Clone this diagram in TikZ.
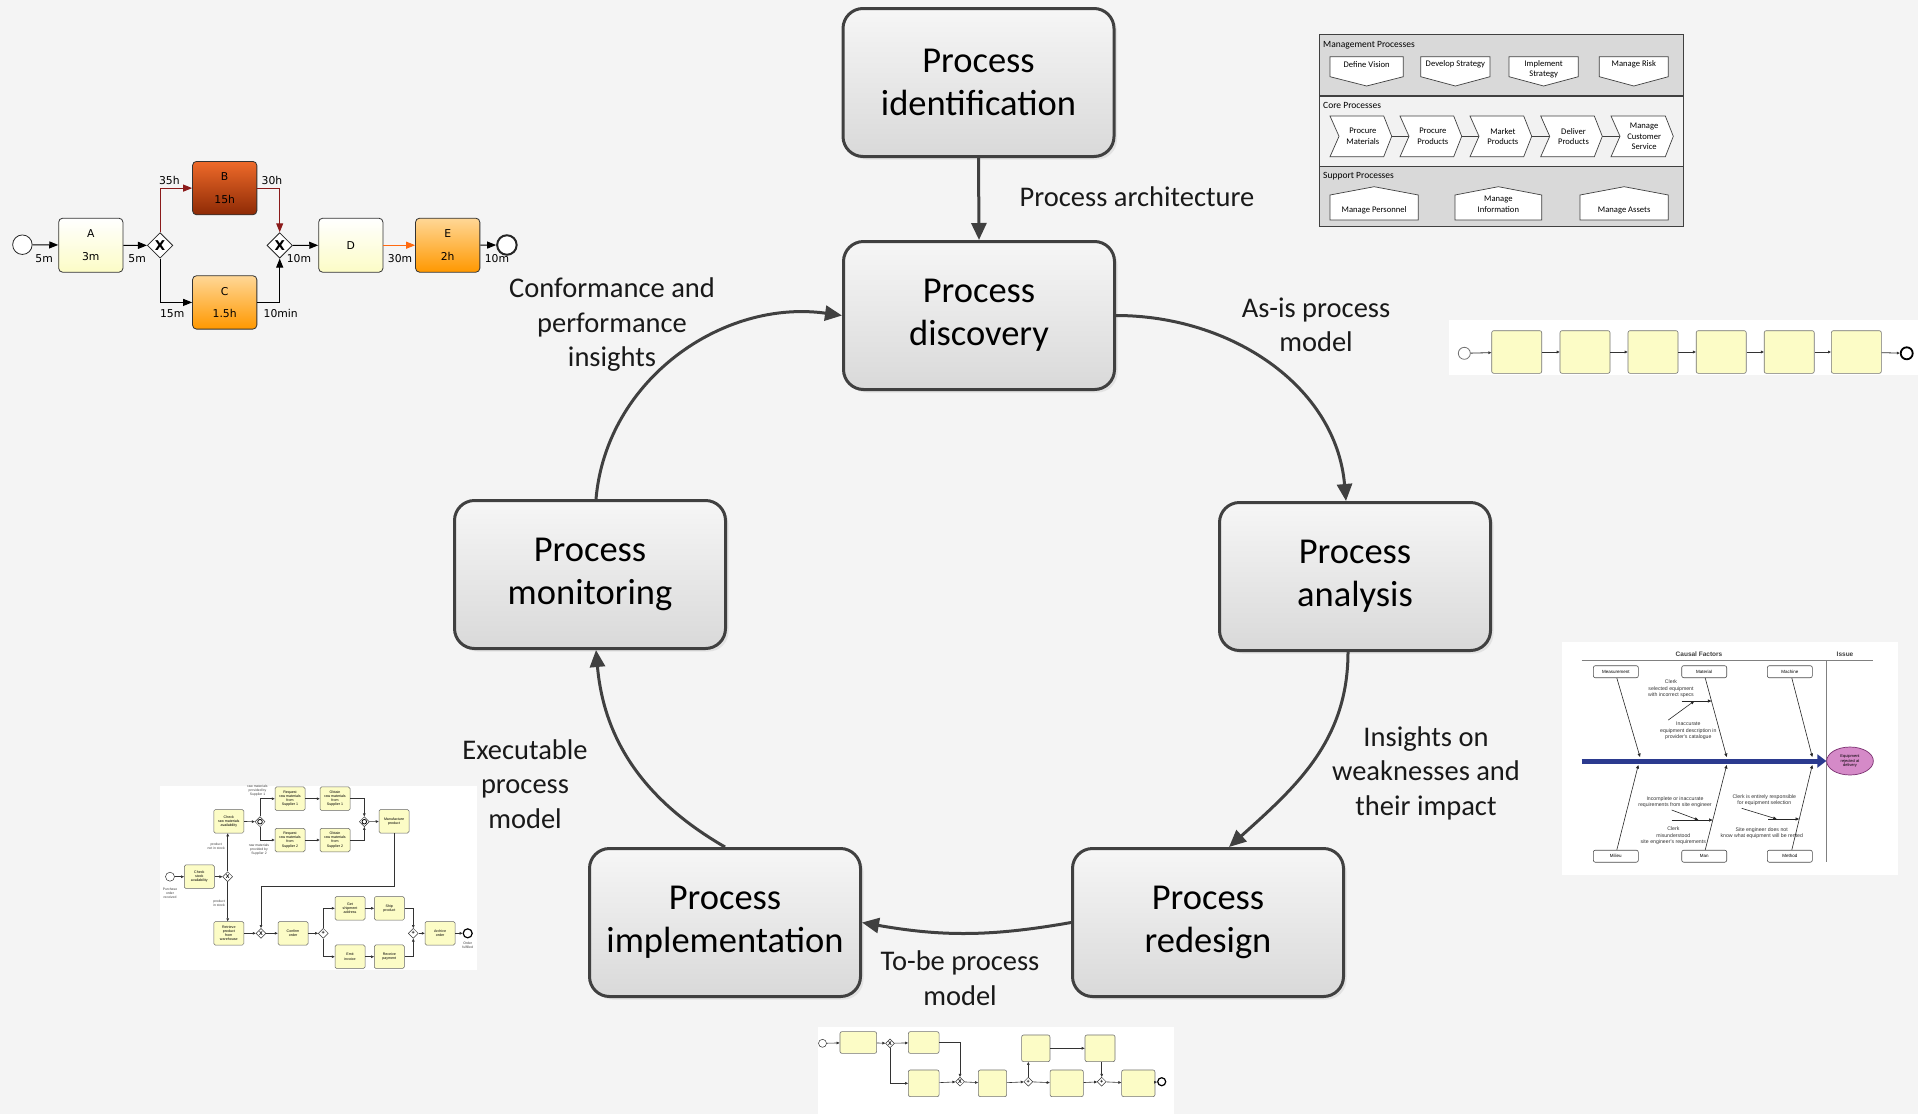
\documentclass[tikz,border=0pt]{standalone}
\usepackage{fontspec}
\setmainfont{Carlito}
\newfontfamily\bpmnfont{DejaVu Sans}
\newfontfamily\tinyfont{Liberation Sans}
\usetikzlibrary{arrows.meta,shapes.geometric,shadows,calc}

\definecolor{bg}{HTML}{F4F4F4}
\definecolor{edge}{HTML}{404040}
\definecolor{phtop}{HTML}{F6F6F6}
\definecolor{phbot}{HTML}{D9D9D9}
\definecolor{taskyel}{HTML}{FCFCC6}
\definecolor{btop}{HTML}{EE6A2A}
\definecolor{bbot}{HTML}{8E2A05}
\definecolor{otop}{HTML}{FFD796}
\definecolor{obot}{HTML}{FF9800}
\definecolor{flowred}{HTML}{8B1A1A}
\definecolor{floworange}{HTML}{FF6A10}
\definecolor{archgray}{HTML}{D9D9D9}
\definecolor{archlight}{HTML}{F2F2F2}
\definecolor{spine}{HTML}{2B3A8F}
\definecolor{issuefill}{HTML}{D58AC8}
\definecolor{issueline}{HTML}{7A3070}

\begin{document}
\begin{tikzpicture}[x=1pt,y=1pt,
  phase/.style={draw=edge, line width=3pt, rounded corners=20pt,
    top color=phtop, bottom color=phbot, minimum width=271pt, minimum height=148pt,
    inner sep=0pt, align=center, font=\fontsize{36.5}{43}\selectfont, text=black,
    drop shadow={shadow xshift=3pt, shadow yshift=-3pt, opacity=0.15}},
  cyc/.style={draw=edge, line width=3pt, -{Triangle[length=17pt,width=15pt]}},
  lab/.style={align=center, font=\fontsize{28.5}{34.5}\selectfont, text=black!90},
  % small BPMN model
  task/.style={draw=black!80, line width=0.8pt, rounded corners=4pt, minimum width=64.3pt,
    minimum height=54pt, inner sep=0pt, align=center, font=\bpmnfont\fontsize{10.8}{12}\selectfont},
  ytask/.style={task, top color=white, bottom color=taskyel},
  btask/.style={task, top color=btop, bottom color=bbot},
  otask/.style={task, top color=otop, bottom color=obot},
  gw/.style={diamond, draw=black!85, fill=white, line width=0.8pt, minimum size=25.5pt,
    inner sep=0pt, font=\bpmnfont\bfseries\fontsize{13.5}{13.5}\selectfont},
  sev/.style={circle, draw=black!85, fill=white, line width=0.8pt, minimum size=19.5pt, inner sep=0pt},
  eev/.style={sev, line width=2pt},
  flow/.style={line width=1pt, draw=black, -{Triangle[length=9pt,width=7pt]}},
  lbl/.style={font=\bpmnfont\fontsize{10.8}{12}\selectfont, inner sep=0pt},
  % process architecture
  archshape/.style={draw=black!75, fill=white, line width=0.7pt},
  archtext/.style={align=center, font=\fontsize{8.6}{10.5}\selectfont, inner sep=0pt},
  archhead/.style={anchor=west, font=\fontsize{9.5}{11}\selectfont, inner sep=0pt},
  % tiny process models
  mini/.style={draw=black!55, fill=taskyel, rounded corners=2pt, line width=0.6pt, inner sep=0pt},
  ext/.style={draw=black!60, fill=taskyel, rounded corners=1.5pt, line width=0.5pt,
    minimum width=30pt, minimum height=23.5pt, inner sep=0pt, align=center,
    font=\tinyfont\fontsize{3.6}{4.1}\selectfont},
  exg/.style={diamond, draw=black!80, fill=white, line width=0.5pt, minimum size=10pt,
    inner sep=0pt, font=\tinyfont\bfseries\fontsize{5.5}{5.5}\selectfont},
  exa/.style={line width=0.6pt, draw=black!80, -{Triangle[length=3pt,width=2.6pt]}},
  exl/.style={align=center, font=\tinyfont\fontsize{3.4}{3.9}\selectfont, inner sep=0pt, text=black!75},
  % fishbone
  fb/.style={draw=black!70, rounded corners=2pt, fill=white, line width=0.6pt, minimum width=45pt,
    minimum height=12pt, inner sep=0pt, font=\tinyfont\fontsize{4.5}{5}\selectfont},
  fbarr/.style={line width=0.6pt, draw=black!85, -{Triangle[length=3.5pt,width=3pt]}},
  fbt/.style={align=center, font=\tinyfont\fontsize{5.2}{6.4}\selectfont, inner sep=0pt, text=black!80}
]
\useasboundingbox (0,0) rectangle (1918,-1114);
\fill[bg] (0,0) rectangle (1918,-1114);

% ---------------- life cycle ----------------
\node[phase] (ident) at (978.5,-82.5) {Process\\identification};
\node[phase] (disc)  at (979,-315.5)  {Process\\discovery};
\node[phase] (anal)  at (1355,-576.5) {Process\\analysis};
\node[phase] (redes) at (1208,-922.5) {Process\\redesign};
\node[phase] (impl)  at (725,-922.5)  {Process\\implementation};
\node[phase] (mon)   at (590,-574.5)  {Process\\monitoring};

\draw[cyc] (ident.south) -- (disc.north);
\draw[cyc] (disc.east) to[out=0,in=95] ([xshift=-9pt]anal.north);
\draw[cyc] ([xshift=-7pt]anal.south) to[out=-90,in=42] ([xshift=21pt]redes.north);
\draw[cyc] (redes.west) to[out=190,in=-10] (impl.east);
\draw[cyc] (impl.north) to[out=150,in=-85] ([xshift=6pt]mon.south);
\draw[cyc] ([xshift=6pt]mon.north) to[out=85,in=172] (disc.west);

\node[lab] (l1) at (1137,-197) {Process architecture};
\node[lab] (l2) at (1316,-325) {As-is process\\model};
\node[lab] (l3) at (1426,-773) {Insights on\\weaknesses and\\their impact};
\node[lab] (l4) at (960,-978)  {To-be process\\model};
\node[lab] (l5) at (525,-784)  {Executable\\process\\model};
\node[lab] (l6) at (612,-325)  {Conformance and\\performance\\insights};

% ---------------- BPMN model with durations ----------------
\node[sev] (s1) at (22.4,-244.7) {};
\node[ytask] (tA) at (90.8,-245.2) {A\\[10.5pt]3m};
\node[gw] (g1) at (160.1,-245.4) {X};
\node[btask, minimum height=53.4pt] (tB) at (224.7,-188.1) {B\\[10.5pt]15h};
\node[otask, minimum height=53.4pt] (tC) at (224.7,-302.4) {C\\[10.5pt]1.5h};
\node[gw] (g2) at (279.7,-245.4) {X};
\node[ytask] (tD) at (350.8,-245.2) {D};
\node[otask] (tE) at (447.7,-245.2) {E\\[10.5pt]2h};
\node[eev] (e1) at (506.9,-245) {};

\draw[flow] (s1) -- (tA);
\draw[flow] (tA) -- (g1);
\draw[flow, draw=flowred] (g1.north) |- (tB.west);
\draw[flow, draw=flowred] (tB.east) -| (g2.north);
\draw[flow] (g1.south) |- (tC.west);
\draw[flow] (tC.east) -| (g2.south);
\draw[flow] (g2) -- (tD);
\draw[flow, draw=floworange] (tD) -- (tE);
\draw[flow] (tE) -- (e1);

\node[lbl] at (44.1,-258.4) {5m};
\node[lbl] at (137.1,-258.4) {5m};
\node[lbl] at (169.4,-180.3) {35h};
\node[lbl] at (272,-180.3) {30h};
\node[lbl] at (172.2,-313.5) {15m};
\node[lbl] at (280.7,-313.5) {10min};
\node[lbl] at (298.9,-258.4) {10m};
\node[lbl] at (400.1,-258.4) {30m};
\node[lbl] at (496.9,-258.4) {10m};

% ---------------- process architecture ----------------
\fill[archgray]  (1319,-34) rectangle (1683.3,-96);
\fill[archlight] (1319,-96) rectangle (1683.3,-166.7);
\fill[archgray]  (1319,-166.7) rectangle (1683.3,-226.7);
\draw[black!75, line width=1.2pt] (1319,-96) -- (1683.3,-96);
\draw[black!75, line width=1.2pt] (1319,-166.7) -- (1683.3,-166.7);
\draw[black!75, line width=1pt] (1319,-34) rectangle (1683.3,-226.7);
\node[archhead] at (1323,-45) {Management Processes};
\node[archhead] at (1323,-105) {Core Processes};
\node[archhead] at (1323,-175.7) {Support Processes};

\foreach \xa/\xb/\txt/\ty [count=\i] in
  {1330/1403.3/Define Vision/-64.5, 1420.7/1490/Develop Strategy/-64.5,
   1509/1578.3/{Implement\\Strategy}/-69.5, 1599.3/1668.3/Manage Risk/-64.5}{
  \draw[archshape] (\xa,-56.7) -- (\xb,-56.7) -- (\xb,-76.7) -- ({(\xa+\xb)/2},-86) -- (\xa,-76.7) -- cycle;
  \node[archtext] (mg\i) at ({(\xa+\xb)/2},\ty) {\txt};
}
\foreach \xa/\xb in {1391.7/1409, 1461.7/1479, 1531.7/1549.7, 1602.3/1620}{
  \draw[black!75, line width=0.7pt] (\xa,-136.3) -- (\xb,-136.3);
}
\foreach \xa/\xb/\txt [count=\i] in
  {1330/1391.7/{Procure\\Materials}, 1400/1461.7/{Procure\\Products},
   1470/1531.7/{Market\\Products}, 1540.7/1602.3/{Deliver\\Products},
   1611/1673.3/{Manage\\Customer\\Service}}{
  \draw[archshape] (\xa,-116) -- ({\xb-8},-116) -- (\xb,-136.3) -- ({\xb-8},-156.7) -- (\xa,-156.7) -- ({\xa+9},-136.3) -- cycle;
  \node[archtext] (cp\i) at ({(\xa+\xb)/2+2},-136.3) {\txt};
}
\foreach \xa/\xb/\txt/\ty [count=\i] in
  {1330/1418.3/Manage Personnel/-210, 1455/1541.7/{Manage\\Information}/-204.5,
   1580/1668.3/Manage Assets/-210}{
  \draw[archshape] (\xa,-195) -- ({(\xa+\xb)/2},-186.7) -- (\xb,-195) -- (\xb,-220) -- (\xa,-220) -- cycle;
  \node[archtext] (sp\i) at ({(\xa+\xb)/2},\ty) {\txt};
}

% ---------------- as-is model ----------------
\fill[white] (1449,-320) rectangle (1918,-375);
\node[circle, draw=black!55, fill=white, line width=0.8pt, minimum size=12pt, inner sep=0pt] (as0) at (1464.3,-353.3) {};
\foreach \cx [count=\i] in {1516.7,1585,1653,1721.2,1789.2,1856.3}{
  \node[mini, minimum width=50pt, minimum height=42.6pt] (as\i) at (\cx,-352) {};
}
\node[circle, draw=black, fill=white, line width=1.8pt, minimum size=12pt, inner sep=0pt] (as7) at (1906.7,-353.3) {};
\foreach \i [evaluate=\i as \j using int(\i+1)] in {0,...,6}{
  \draw[exa, line width=0.8pt] (as\i) -- (as\j);
}

% ---------------- fishbone ----------------
\fill[white] (1561.7,-641.7) rectangle (1898.3,-875);
\draw[black!50, line width=0.6pt] (1581.7,-660) -- (1873.3,-660);
\draw[black!50, line width=0.6pt] (1826.7,-660) -- (1826.7,-861.7);
\node[font=\tinyfont\bfseries\fontsize{6.5}{7}\selectfont, text=black!75] at (1699,-654.3) {Causal Factors};
\node[font=\tinyfont\bfseries\fontsize{6.5}{7}\selectfont, text=black!75] at (1845,-654.3) {Issue};
\node[ellipse, draw=issueline, fill=issuefill, line width=0.7pt, minimum width=46.7pt, minimum height=28pt,
  inner sep=0pt, align=center, font=\tinyfont\fontsize{4}{4.6}\selectfont] (issue) at (1850,-761)
  {Equipment\\rejected at\\delivery};
\coordinate (tail) at (1581.7,-761);
\draw[spine, line width=5pt, -{Triangle[length=9pt,width=13pt]}] (tail) -- (issue.west);

\node[fb] (cMeas) at (1615.8,-671.7) {Measurement};
\node[fb] (cMat)  at (1704.2,-671.7) {Material};
\node[fb] (cMach) at (1789.8,-671.7) {Machine};
\node[fb] (cMil)  at (1615.8,-856.2) {Milieu};
\node[fb] (cMan)  at (1704.2,-856.2) {Man};
\node[fb] (cMeth) at (1789.8,-856.2) {Method};
\coordinate (b1) at (1640,-757);
\coordinate (b2) at (1726.7,-757);
\coordinate (b3) at (1812.3,-757);
\coordinate (b4) at (1638.3,-765);
\coordinate (b5) at (1726.7,-765);
\coordinate (b6) at (1812.3,-765);
\draw[fbarr] ([xshift=1pt]cMeas.south) -- (b1);
\draw[fbarr] ([xshift=1pt]cMat.south) -- (b2);
\draw[fbarr] ([xshift=2pt]cMach.south) -- (b3);
\draw[fbarr] ([xshift=1pt]cMil.north) -- (b4);
\draw[fbarr] ([xshift=1pt]cMan.north) -- (b5);
\draw[fbarr] ([xshift=2pt]cMeth.north) -- (b6);

\coordinate (m1a) at (1681.7,-701);   \coordinate (m1b) at (1711.4,-701);
\coordinate (m2a) at (1668.3,-720);   \coordinate (m2b) at (1694.3,-701);
\coordinate (n1a) at (1671.7,-820);   \coordinate (n1b) at (1712.6,-820);
\coordinate (n2a) at (1671.7,-810);   \coordinate (n2b) at (1698.3,-820);
\coordinate (t1a) at (1768.3,-819);   \coordinate (t1b) at (1799.1,-819);
\coordinate (t2a) at (1741.7,-808.3); \coordinate (t2b) at (1776.7,-819);
\draw[fbarr] (m1a) -- (m1b);
\draw[fbarr] (m2a) -- (m2b);
\draw[fbarr] (n1a) -- (n1b);
\draw[fbarr] (n2a) -- (n2b);
\draw[fbarr] (t1a) -- (t1b);
\draw[fbarr] (t2a) -- (t2b);
\node[fbt] at (1671,-689) {Clerk\\selected equipment\\with incorrect specs};
\node[fbt] at (1688.3,-731) {Inaccurate\\equipment description in\\provider's catalogue};
\node[fbt] at (1675,-802) {Incomplete or inaccurate\\requirements from site engineer};
\node[fbt] at (1673.3,-836) {Clerk\\misunderstood\\site engineer's requirements};
\node[fbt] at (1764.3,-800) {Clerk is entirely responsible\\for equipment selection};
\node[fbt] at (1761.7,-833) {Site engineer does not\\know what equipment will be rented};

% ---------------- executable model ----------------
\fill[white] (160,-786) rectangle (477,-970);
\node[circle, draw=black!80, fill=white, line width=0.5pt, minimum size=9pt, inner sep=0pt] (xs) at (170,-876.7) {};
\node[exl] at (170,-893) {Purchase\\order\\received};
\node[ext] (x1) at (199.3,-876.7) {Check\\stock\\availability};
\node[exg] (xg1) at (227.7,-876.7) {X};
\node[ext] (x2) at (228.8,-821.3) {Check\\raw materials\\availability};
\node[exg] (xi1) at (260,-821.7) {};
\draw[line width=0.8pt] (xi1) circle (2.3);
\node[ext] (x3) at (290,-798.7) {Request\\raw materials\\from\\Supplier 1};
\node[ext] (x4) at (335,-798.7) {Obtain\\raw materials\\from\\Supplier 1};
\node[ext] (x5) at (290,-840) {Request\\raw materials\\from\\Supplier 2};
\node[ext] (x6) at (335,-840) {Obtain\\raw materials\\from\\Supplier 2};
\node[exg] (xi2) at (364.3,-821.7) {};
\draw[line width=0.8pt] (xi2) circle (2.3);
\node[ext] (x7) at (394,-821.3) {Manufacture\\product};
\node[ext] (x8) at (228.8,-933.3) {Retrieve\\product\\from\\warehouse};
\node[exg] (xg2) at (261,-933.3) {X};
\node[ext] (x9) at (293,-933.3) {Confirm\\order};
\node[exg] (xp1) at (323.3,-933.3) {+};
\node[ext] (x10) at (350,-908.3) {Get\\shipment\\address};
\node[ext] (x11) at (389.3,-908.3) {Ship\\product};
\node[ext] (x12) at (350,-956.7) {Emit\\invoice};
\node[ext] (x13) at (389.3,-956.7) {Receive\\payment};
\node[exg] (xp2) at (413.3,-933.3) {+};
\node[ext] (x14) at (440,-933.3) {Archive\\order};
\node[circle, draw=black, fill=white, line width=1.2pt, minimum size=9pt, inner sep=0pt] (xe) at (467.7,-933.3) {};
\node[exl] at (467.7,-945) {Order\\fulfilled};
\node[exl, anchor=east] at (225,-846.7) {product\\not in stock};
\node[exl, anchor=east] at (225,-903.3) {product\\in stock};
\node[exl] at (257.5,-790.8) {raw materials\\provided by\\Supplier 1};
\node[exl] at (259,-850) {raw materials\\provided by\\Supplier 2};
\coordinate (mf) at (394,-886.7);

\draw[exa] (xs) -- (x1);
\draw[exa] (x1) -- (xg1);
\draw[exa] (xg1.north) -- (xg1.north |- x2.south);
\draw[exa] (xg1.south) -- (xg1.south |- x8.north);
\draw[exa] (x2) -- (xi1);
\draw[exa] (xi1.north) |- (x3.west);
\draw[exa] (xi1.south) |- (x5.west);
\draw[exa] (x3) -- (x4);
\draw[exa] (x5) -- (x6);
\draw[exa] (x4.east) -| (xi2.north);
\draw[exa] (x6.east) -| (xi2.south);
\draw[exa] (xi2) -- (x7);
\draw[exa] (x7.south) -- (mf) -| (xg2.north);
\draw[exa] (x8) -- (xg2);
\draw[exa] (xg2) -- (x9);
\draw[exa] (x9) -- (xp1);
\draw[exa] (xp1.north) |- (x10.west);
\draw[exa] (xp1.south) |- (x12.west);
\draw[exa] (x10) -- (x11);
\draw[exa] (x12) -- (x13);
\draw[exa] (x11.east) -| (xp2.north);
\draw[exa] (x13.east) -| (xp2.south);
\draw[exa] (xp2) -- (x14);
\draw[exa] (x14) -- (xe);

% ---------------- to-be model ----------------
\fill[white] (818,-1027) rectangle (1174,-1114);
\node[circle, draw=black!80, fill=white, line width=0.5pt, minimum size=8pt, inner sep=0pt] (ts) at (822.5,-1043.3) {};
\node[mini, minimum width=36.7pt, minimum height=21.7pt] (tb1) at (858.3,-1042.5) {};
\node[exg, minimum size=9pt] (tg1) at (890,-1043.3) {X};
\node[mini, minimum width=30.7pt, minimum height=21.7pt] (tb2) at (923.7,-1042.5) {};
\node[mini, minimum width=30.7pt, minimum height=26.7pt] (tb3) at (923.7,-1083.3) {};
\node[exg, minimum size=9pt] (tg2) at (960,-1081.7) {X};
\node[mini, minimum width=28.3pt, minimum height=26.7pt] (tb4) at (992.5,-1083.3) {};
\node[exg, minimum size=9pt] (tg3) at (1028.3,-1081.7) {+};
\node[mini, minimum width=28.3pt, minimum height=26.7pt] (tb5) at (1035.8,-1048.3) {};
\node[mini, minimum width=33.3pt, minimum height=26.7pt] (tb6) at (1066.7,-1083.3) {};
\node[mini, minimum width=30pt, minimum height=26.7pt] (tb7) at (1100,-1048.3) {};
\node[exg, minimum size=9pt] (tg4) at (1101.7,-1081.7) {+};
\node[mini, minimum width=33.3pt, minimum height=26.7pt] (tb8) at (1138.3,-1083.3) {};
\node[circle, draw=black, fill=white, line width=1.2pt, minimum size=8pt, inner sep=0pt] (te) at (1161.7,-1081.7) {};

\draw[exa] (ts) -- (tb1);
\draw[exa] (tb1) -- (tg1);
\draw[exa] (tg1) -- (tb2);
\draw[exa] (tg1.south) |- (tb3.west);
\draw[exa] (tb2.east) -| (tg2.north);
\draw[exa] (tb3) -- (tg2);
\draw[exa] (tg2) -- (tb4);
\draw[exa] (tb4) -- (tg3);
\draw[exa] (tg3.north) -- (tg3.north |- tb5.south);
\draw[exa] (tg3) -- (tb6);
\draw[exa] (tb5) -- (tb7);
\draw[exa] (tb7.south -| tg4.north) -- (tg4.north);
\draw[exa] (tb6) -- (tg4);
\draw[exa] (tg4) -- (tb8);
\draw[exa] (tb8) -- (te);
\end{tikzpicture}
\end{document}
